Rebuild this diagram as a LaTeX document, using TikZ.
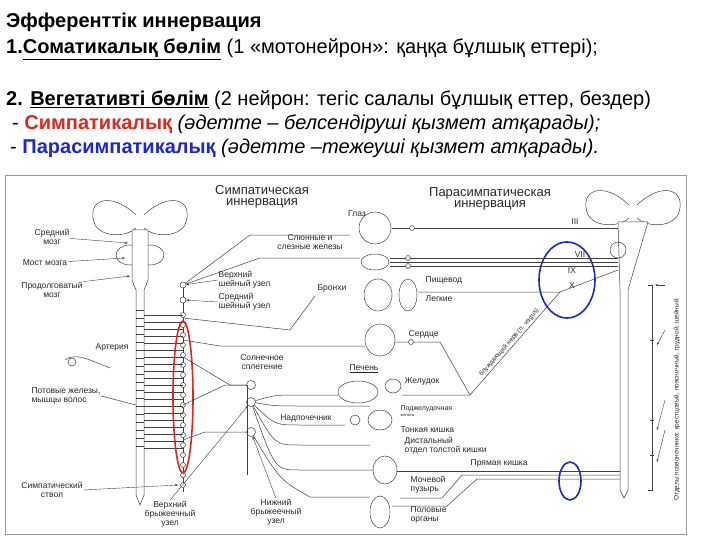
\documentclass[tikz,border=0pt]{standalone}
\usepackage{fontspec}
\setmainfont{Liberation Sans}
\usetikzlibrary{arrows.meta}
\definecolor{symred}{RGB}{220,40,30}
\definecolor{parblue}{RGB}{30,40,200}
\definecolor{lbl}{RGB}{40,40,40}
\begin{document}
\begin{tikzpicture}[x=1pt,y=-1pt,
  hdr/.style={anchor=base west,inner sep=0pt,font=\fontsize{20}{22}\selectfont},
  lab/.style={inner sep=0.5pt,font=\fontsize{8.5}{9}\selectfont,text=lbl,align=left},
  ttl/.style={inner sep=0pt,font=\fontsize{13}{11.5}\selectfont,text=lbl,align=center},
  ln/.style={draw=black!75,line width=0.5pt},
  org/.style={draw=black!75,line width=0.5pt,fill=white},
  gang/.style={draw=black!75,line width=0.5pt,fill=white,circle,minimum size=6pt,inner sep=0pt},
  arr/.style={draw=black!75,line width=0.4pt,-{Stealth[length=3pt]}}]
\useasboundingbox (0,0) rectangle (720,540);
\fill[white] (0,0) rectangle (720,540);
% ---------- header ----------
\node[hdr] (h1) at (6,28) {\textbf{Эфференттік иннервация}};
\node[hdr] (h2) at (6,54) {\textbf{1.\underline{Соматикалық бөлім}} (1 «мотонейрон»: қаңқа бұлшық еттері);};
\node[hdr] (h3) at (6,106) {\textbf{2. \underline{Вегетативті бөлім}} (2 нейрон: тегіс салалы бұлшық еттер, бездер)};
\node[hdr] (h4) at (12,130) {- \textbf{\textcolor{symred}{Симпатикалық}} \textit{(әдетте – белсендіруші қызмет атқарады);}};
\node[hdr] (h5) at (10,154) {- \textbf{\textcolor{parblue}{Парасимпатикалық}} \textit{(әдетте –тежеуші қызмет атқарады).}};
% ---------- frame ----------
\draw[black!40,line width=0.8pt] (5,175) rectangle (686,534);
% ---------- titles ----------
\node[ttl] (ts) at (262,197) {Симпатическая\\иннервация};
\node[ttl] (tp) at (490,199) {Парасимпатическая\\иннервация};
% ---------- left brain + cord ----------
\foreach \s in {-1,1}{
  \draw[org] (140+\s*4,215) .. controls (140+\s*30,190) and (140+\s*55,200) .. (140+\s*45,225) .. controls (140+\s*35,240) and (140+\s*10,235) .. (140+\s*4,228);
  \draw[org] (140+\s*10,255) ellipse (14 and 10);
}
\draw[org] (132,230) -- (132,280) -- (136,290) -- (136,495) -- (140,505) -- (144,495) -- (144,290) -- (148,280) -- (148,230) -- cycle;
\foreach \y in {310,318,...,450} \draw[ln] (136,\y) -- (144,\y);
% sympathetic chain
\draw[ln] (183,282) -- (183,492);
\node[gang] (g1) at (183,285) {};
\node[gang] (g2) at (183,300) {};
\foreach \y [count=\i] in {315,325,...,485} \node[gang,minimum size=5pt] (c\i) at (183,\y) {};
\foreach \y in {315,322,...,450} \draw[ln] (144,\y) -- (183,\y);
\draw[symred,line width=1.6pt] (183,397) ellipse (10 and 76);
% plexus ganglia
\node[gang,minimum size=9pt] (sp1) at (251,385) {};
\node[gang,minimum size=9pt] (sp2) at (251,402) {};
\node[gang,minimum size=9pt] (sp3) at (251,432) {};
\draw[ln] (247,385) -- (247,475);
% left labels
\node[lab,align=center] (l1) at (52,237) {Средний\\мозг};
\node[lab] (l2) at (45,263) {Мост мозга};
\node[lab,align=center] (l3) at (52,290) {Продолговатый\\мозг};
\node[lab] (l4) at (112,347) {Артерия};
\node[lab] (l5) at (66,396) {Потовые железы,\\мышцы волос};
\node[lab,align=center] (l6) at (52,490) {Симпатический\\ствол};
\node[lab,align=center] (l7) at (170,514) {Верхний\\брыжеечный\\узел};
\node[lab,align=center] (l8) at (276,512) {Нижний\\брыжеечный\\узел};
\node[lab,anchor=west] (l9) at (218,280) {Верхний\\шейный узел};
\node[lab,anchor=west] (l10) at (218,302) {Средний\\шейный узел};
\node[lab,align=center] (l11) at (262,362) {Солнечное\\сплетение};
\node[lab] (l12) at (306,418) {Надпочечник};
\draw[arr] (l1) -- (128,243);
\draw[arr] (l2) -- (125,258);
\draw[arr] (l3.north east) -- (130,276);
\draw[arr] (l6.east) -- (178,485);
\draw[arr] (l9.west) -- (g1);
\draw[arr] (l10.west) -- (g2);
\draw[arr] (l7.north) -- (sp2);
\draw[arr] (l8.north) -- (sp3);
\draw[ln] (l5.east) -- (136,405);
\draw[org] (65,360) .. controls (75,352) and (90,360) .. (110,368);
\draw[org] (72,362) circle (4);
% ---------- organs ----------
\draw[org] (375,228) circle (16);
\node[lab] (o1) at (357,214) {Глаз};
\node[lab,align=center] (o2) at (310,242) {Слюнные и\\слезные железы};
\draw[org] (375,262) ellipse (14 and 8);
\node[lab] (o3) at (332,288) {Бронхи};
\draw[org] (378,295) ellipse (14 and 16);
\draw[org] (408,295) ellipse (9 and 16);
\node[lab,anchor=west] (o4) at (425,280) {Пищевод};
\node[lab,anchor=west] (o5) at (425,299) {Легкие};
\draw[org] (380,340) ellipse (15 and 16);
\node[lab,anchor=west] (o6) at (408,334) {Сердце};
\node[lab] (o7) at (364,369) {\underline{Печень}};
\draw[org] (358,392) ellipse (20 and 11);
\draw[org] (393,386) ellipse (8 and 7);
\node[lab,anchor=west] (o8) at (404,381) {Желудок};
\node[lab,anchor=west,font=\fontsize{7}{7}\selectfont] (o9) at (400,411) {Поджелудочная\\[-1pt]{\fontsize{4}{4}\selectfont железа}};
\node[lab,anchor=west] (o10) at (400,430) {Тонкая кишка};
\draw[org] (380,420) ellipse (12 and 10);
\draw[org] (355,420) circle (5);
\node[lab,anchor=west] (o11) at (404,446) {Дистальный\\отдел толстой кишки};
\draw[org] (385,470) ellipse (12 and 14);
\node[lab,anchor=west] (o12) at (470,463) {Прямая кишка};
\node[lab,anchor=west] (o13) at (410,485) {Мочевой\\пузырь};
\draw[org] (380,512) ellipse (10 and 16);
\node[lab,anchor=west] (o14) at (410,515) {Половые\\органы};
% ---------- sympathetic connections ----------
\draw[ln] (g1) -- (250,235) -- (350,235);
\draw[ln] (g1) -- (260,258) -- (360,258);
\draw[ln] (183,318) -- (290,330) -- (315,296);
\draw[ln] (183,340) -- (220,346) -- (365,346);
\draw[ln] (183,357) -- (230,385) -- (sp1);
\draw[ln] (183,405) -- (225,385) -- (sp1);
\draw[ln] (183,440) -- (205,432) -- (sp3);
\foreach \y/\e in {395/338,406/370,425/345,445/370,470/373}{
  \draw[ln] (sp2) .. controls (275,\y) .. (300,\y) -- (\e,\y);}
\draw[ln] (sp3) .. controls (280,480) .. (310,497) -- (370,497);
% ---------- parasympathetic ----------
\foreach \s in {-1,1}{
  \draw[org] (633+\s*4,205) .. controls (633+\s*30,180) and (633+\s*55,190) .. (633+\s*45,215) .. controls (633+\s*35,230) and (633+\s*10,225) .. (633+\s*4,218);}
\draw[org] (618,222) -- (648,222) -- (628,290) -- (628,490) -- (624,498) -- (620,490) -- (620,290) -- cycle;
\draw[ln] (618,250) ellipse (8 and 8);
\node[lab] (r3) at (575,222) {III};
\node[lab] (r7) at (580,255) {VII};
\node[lab] (r9) at (572,271) {IX};
\node[lab] (r10) at (572,286) {X};
\draw[parblue,line width=1.6pt] (567,280) ellipse (28 and 38);
\draw[parblue,line width=1.6pt] (570,481) ellipse (11 and 19);
\draw[ln] (618,228) -- (392,228);
\node[gang,minimum size=5pt] (p1) at (412,228) {};
\draw[ln] (618,258) -- (390,258);
\draw[ln] (618,262) -- (390,262);
\draw[ln] (618,266) -- (390,266);
\node[gang,minimum size=5pt] at (408,258) {};
\node[gang,minimum size=5pt] at (408,266) {};
\draw[ln] (618,270) -- (560,292) -- (418,292);
\draw[ln] (560,292) -- (470,395) -- (402,395);
\draw[ln] (470,395) -- (440,342) -- (395,342);
\node[gang,minimum size=5pt] at (411,342) {};
\node[lab,rotate=49,font=\fontsize{6.5}{6.5}\selectfont,anchor=south] (vag) at (512,345) {блуждающий нерв (n. vagus)};
\draw[ln] (620,471) -- (397,471);
\draw[ln] (620,475) -- (462,475) -- (442,498) -- (400,498);
\draw[ln] (620,479) -- (477,479) -- (447,506) -- (392,506);
% right vertebral brackets
\draw[ln] (648,285) -- (652,285) -- (652,490) -- (648,490);
\foreach \y in {340,420,455} \draw[ln] (650,\y) -- (654,\y);
\draw[arr] (665,285) -- (655,285);
\draw[arr] (665,330) -- (657,345);
\draw[arr] (665,400) -- (657,430);
\draw[arr] (665,430) -- (657,462);
\node[lab,rotate=90,font=\fontsize{6.5}{6.5}\selectfont] (vert) at (677,400) {Отделы позвоночника: крестцовый, поясничный, грудной, шейный};
\end{tikzpicture}
\end{document}
